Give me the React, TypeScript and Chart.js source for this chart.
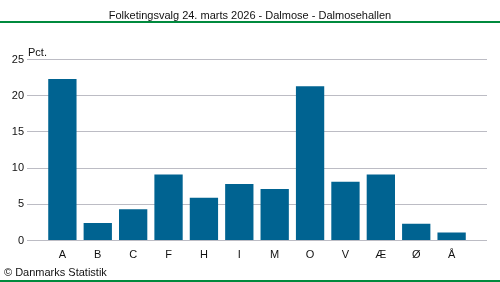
import React, { useEffect, useRef } from "react";
import { Chart, registerables } from "chart.js";

Chart.register(...registerables);

const TITLE = "Folketingsvalg 24. marts 2026 - Dalmose - Dalmosehallen";
const UNIT_LABEL = "Pct.";
const SOURCE = "© Danmarks Statistik";
const categories = ["A", "B", "C", "F", "H", "I", "M", "O", "V", "Æ", "Ø", "Å"];
const percentages = [22.3, 2.4, 4.3, 9.1, 5.9, 7.8, 7.1, 21.3, 8.1, 9.1, 2.3, 1.1];
const yTicks = [0, 5, 10, 15, 20, 25];

const FONT = "Arial, 'Liberation Sans', sans-serif";

export default function App() {
  const ref = useRef<HTMLCanvasElement | null>(null);

  useEffect(() => {
    document.body.style.margin = "0";
    const canvas = ref.current;
    if (!canvas) return;

    const decor = {
      id: "decor",
      afterDraw(chart: any) {
        const ctx = chart.ctx;
        ctx.save();
        ctx.fillStyle = "#008a3e";
        ctx.fillRect(0, 21, 500, 2);
        ctx.fillRect(0, 280, 500, 2);
        ctx.fillStyle = "#111";
        ctx.font = `11px ${FONT}`;
        ctx.textBaseline = "alphabetic";
        ctx.textAlign = "center";
        ctx.fillText(TITLE, 250, 19);
        ctx.textAlign = "left";
        ctx.fillText(UNIT_LABEL, 28, 56);
        ctx.fillText(SOURCE, 4, 275.5);
        ctx.restore();
      },
    };

    const chart = new Chart(canvas, {
      type: "bar",
      data: {
        datasets: [
          {
            data: categories.map((c, i) => ({ x: i, y: percentages[i] })),
            backgroundColor: "#006391",
            borderWidth: 0,
            barPercentage: 1,
            categoryPercentage: 0.8,
          },
        ],
      },
      options: {
        animation: false,
        responsive: false,
        devicePixelRatio: 1,
        layout: { padding: { top: 59.5, right: 13, left: 0, bottom: 0 } },
        plugins: {
          legend: { display: false },
          tooltip: { enabled: false },
          title: { display: false },
        },
        scales: {
          x: {
            type: "linear",
            offset: false,
            min: -1,
            max: categories.length,
            grid: { display: false, drawTicks: false },
            border: { display: false },
            afterFit: (s: any) => {
              s.height = 41.5;
            },
            afterBuildTicks: (s: any) => {
              s.ticks = categories.map((_, i) => ({ value: i }));
            },
            ticks: {
              autoSkip: false,
              maxRotation: 0,
              padding: 8,
              color: "#111",
              font: { family: FONT, size: 11 },
              callback: (v: any) => categories[v] ?? "",
            },
          },
          y: {
            min: 0,
            max: 25,
            afterFit: (s: any) => {
              s.width = 27;
            },
            afterBuildTicks: (s: any) => {
              s.ticks = yTicks.map((v) => ({ value: v }));
            },
            grid: { color: "#bcbcc4", drawTicks: false, lineWidth: 1 },
            border: { display: false },
            ticks: {
              padding: 3,
              color: "#111",
              font: { family: FONT, size: 11 },
            },
          },
        },
      },
      plugins: [decor],
    });
    return () => chart.destroy();
  }, []);

  return (
    <div style={{ position: "fixed", left: 0, top: 0, width: 500, height: 282, background: "#fff" }}>
      <canvas ref={ref} width={500} height={282} style={{ display: "block", width: 500, height: 282 }} />
    </div>
  );
}
